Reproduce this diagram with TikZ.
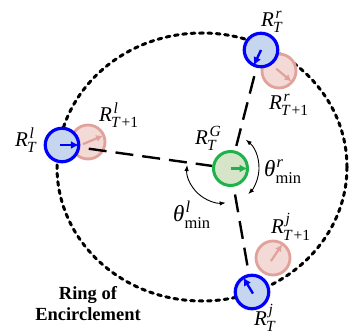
\documentclass[tikz,border=0pt]{standalone}
\usepackage{fontspec}
\usepackage{amsmath}
\setmainfont{Liberation Serif}
\DeclareMathSizes{21}{21}{15.5}{12}
\DeclareMathSizes{23}{23}{16.5}{12}
\usetikzlibrary{arrows.meta,calc}
\definecolor{bluefill}{HTML}{C6D6EE}
\definecolor{pinkfill}{HTML}{F3DAD7}
\definecolor{pinkline}{HTML}{E0A29B}
\definecolor{greenline}{HTML}{1FB24A}
\definecolor{greenfill}{HTML}{D6E5C8}
\newcommand{\mi}[1]{\text{\itshape #1}}
\newcommand{\Rlab}[2]{$\mi{R}^{\kern1.5pt\mi{#1}}_{\kern-1pt#2}$}
\newcommand{\Tsub}{\mi{T}}
\newcommand{\Tone}{\mi{T}\text{\kern2pt+1}}
\pgfdeclarelayer{ringlayer}
\pgfdeclarelayer{pinklayer}
\pgfdeclarelayer{linelayer}
\pgfsetlayers{ringlayer,pinklayer,linelayer,main}
\begin{document}
\begin{tikzpicture}[x=1pt,y=-1pt,
  ringline/.style={line width=3pt, dash pattern=on 3.8pt off 4.6pt, line cap=round},
  bluenode/.style={circle, draw=blue, line width=3.2pt, fill=bluefill, minimum size=33.5pt, inner sep=0pt},
  pinknode/.style={circle, draw=pinkline, line width=2.8pt, fill=pinkfill, minimum size=34pt, inner sep=0pt},
  greennode/.style={circle, draw=greenline, line width=3pt, fill=greenfill, minimum size=34pt, inner sep=0pt},
  bluearrow/.style={draw=blue, line width=2.4pt, -{Latex[length=8pt,width=8pt]}, shorten >=1.5pt},
  pinkarrow/.style={draw=pinkline, line width=2.2pt, -{Latex[length=7pt,width=7pt]}, shorten >=2pt},
  greenarrow/.style={draw=greenline, line width=2.4pt, -{Latex[length=8pt,width=8pt]}, shorten >=1.5pt},
  dline/.style={line width=2.4pt, dash pattern=on 18pt off 9pt},
  anglearc/.style={line width=0.9pt, {Latex[length=6pt,width=4.5pt]}-{Latex[length=6pt,width=4.5pt]}},
  lab/.style={inner sep=0pt, anchor=base west, font=\fontsize{21}{25}\selectfont},
  thlab/.style={inner sep=0pt, anchor=base west, font=\fontsize{23}{27}\selectfont},
  ringlab/.style={align=center, inner sep=0pt, font=\bfseries\fontsize{18.5}{21}\selectfont}
]
\useasboundingbox (0,0) rectangle (350,336);

% ring
\begin{pgfonlayer}{ringlayer}
\coordinate (rc) at (202,167);
\draw[ringline] (rc) ellipse [x radius=145, y radius=134];
\end{pgfonlayer}

% main nodes
\node[bluenode] (bl) at (62,145) {};
\node[bluenode] (bt) at (261,50) {};
\node[bluenode] (bb) at (252,292) {};
\node[greennode] (g) at (230.5,168.5) {};

% pink nodes
\begin{pgfonlayer}{pinklayer}
\node[pinknode] (pl) at (88,142) {};
\node[pinknode] (pt) at (279,71) {};
\node[pinknode] (pb) at (273,258) {};
\draw[pinkarrow] ($(pl.center)!-0.3!(pl.23)$) -- (pl.23);
\draw[pinkarrow] ($(pt.center)!-0.2!(pt.320)$) -- (pt.320);
\draw[pinkarrow] ($(pb.center)!-0.2!(pb.56)$) -- (pb.56);
\end{pgfonlayer}

% dashed connectors
\begin{pgfonlayer}{linelayer}
\draw[dline] (bl.center) -- (g);
\draw[dline] (bt.center) -- (g);
\draw[dline] (bb.center) -- (g);
\end{pgfonlayer}

% arrows inside nodes
\draw[bluearrow] ($(bl.center)!-0.1!(bl.0)$) -- (bl.0);
\draw[bluearrow] (bt.center) -- (bt.245);
\draw[bluearrow] ($(bb.center)!-0.1!(bb.121)$) -- (bb.121);
\draw[greenarrow] (g.center) -- (g.0);

% angle arcs
\coordinate (ac) at (222,168);
\draw[anglearc] (ac) ++(185:35) arc[start angle=185, end angle=84, radius=35];
\draw[anglearc] (ac) ++(-50:37) arc[start angle=-50, end angle=45, radius=37];

% labels
\node[lab] (tl) at (15,147) {\Rlab{l}{\Tsub}};
\node[lab] (tl1) at (99,122) {\Rlab{l}{\Tone}};
\node[lab] (tg) at (195,145) {\Rlab{G}{\Tsub}};
\node[lab] (tr) at (261,27) {\Rlab{r}{\Tsub}};
\node[lab] (tr1) at (269,110) {\Rlab{r}{\Tone}};
\node[lab] (tj1) at (271,234) {\Rlab{j}{\Tone}};
\node[lab] (tj) at (254,325) {\Rlab{j}{\Tsub}};
\node[thlab] (thr) at (264,177) {$\mi{θ}^{\kern1pt\mi{r}}_{\text{min}}$};
\node[thlab] (thl) at (173,222) {$\mi{θ}^{\kern1pt\mi{l}}_{\text{min}}$};
\node[ringlab] (rl) at (88,304) {Ring of\\Encirclement};
\end{tikzpicture}
\end{document}
